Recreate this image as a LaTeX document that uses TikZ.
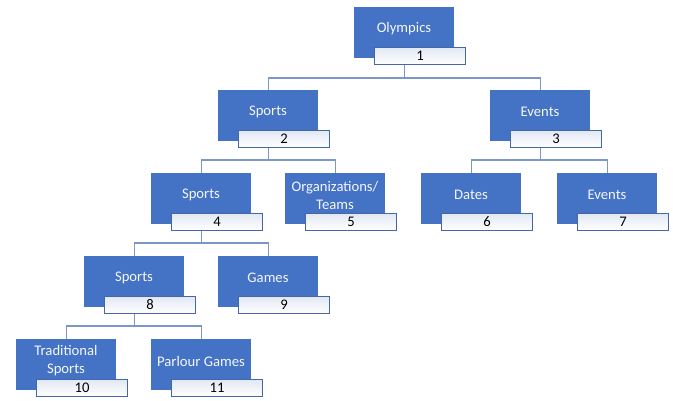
\documentclass[tikz,border=0pt]{standalone}
\usepackage{fontspec}
\setmainfont{Carlito}
\usetikzlibrary{calc}
\definecolor{boxblue}{RGB}{68,114,196}
\definecolor{numborder}{RGB}{70,102,172}
\definecolor{conncol}{RGB}{125,150,200}
\definecolor{numtop}{RGB}{226,232,243}
\definecolor{textwhite}{RGB}{245,247,252}
\tikzset{
  bluebox/.style={draw=none, fill=boxblue, minimum width=75pt, minimum height=38.25pt, inner sep=0pt, anchor=north west},
  bluetext/.style={text=textwhite, font=\fontsize{11}{13.5}\selectfont, align=center, inner sep=0pt},
  numbox/.style={draw=numborder, line width=0.8pt, top color=numtop, bottom color=white, minimum width=68.25pt, minimum height=12.75pt, inner sep=0pt, anchor=north west, font=\fontsize{11}{12}\selectfont},
  conn/.style={draw=conncol, line width=0.9pt}
}
\newcommand{\orgunit}[5]{%
  \node[bluebox] (b#1) at (#2,#3) {};
  \node[bluetext] (t#1) at ($(#2,#3)+(50,22)$) {#4};
  \node[numbox] (n#1) at ($(#2,#3)+(20,40)$) {#5};
}
\begin{document}
\begin{tikzpicture}[x=0.75pt,y=-0.75pt]
\useasboundingbox (0,0) rectangle (673,400);
\fill[white] (0,0) rectangle (673,400);
\coordinate (h1) at (0,78);
\coordinate (h2) at (0,160);
\coordinate (h3) at (0,243);
\coordinate (h4) at (0,326);
\orgunit{1}{354}{7}{Olympics}{1}
\orgunit{2}{218}{90}{Sports}{2}
\orgunit{3}{490}{90}{Events}{3}
\orgunit{4}{151}{173}{Sports}{4}
\orgunit{5}{285}{173}{Organizations/\\Teams}{5}
\orgunit{6}{421}{173}{Dates}{6}
\orgunit{7}{557}{173}{Events}{7}
\orgunit{8}{84}{256}{Sports}{8}
\orgunit{9}{218}{256}{Games}{9}
\orgunit{10}{16}{339}{Traditional\\Sports}{10}
\orgunit{11}{151}{339}{Parlour Games}{11}
% level 1 -> 2
\draw[conn] (b1.south |- n1.south) -- (b1.south |- h1);
\draw[conn] (b2.north) -- (b2.north |- h1) -- (b3.north |- h1) -- (b3.north);
% level 2 -> 3
\draw[conn] (b2.south |- n2.south) -- (b2.south |- h2);
\draw[conn] (b4.north) -- (b4.north |- h2) -- (b5.north |- h2) -- (b5.north);
\draw[conn] (b3.south |- n3.south) -- (b3.south |- h2);
\draw[conn] (b6.north) -- (b6.north |- h2) -- (b7.north |- h2) -- (b7.north);
% level 3 -> 4
\draw[conn] (b4.south |- n4.south) -- (b4.south |- h3);
\draw[conn] (b8.north) -- (b8.north |- h3) -- (b9.north |- h3) -- (b9.north);
% level 4 -> 5
\draw[conn] (b8.south |- n8.south) -- (b8.south |- h4);
\draw[conn] (b10.north) -- (b10.north |- h4) -- (b11.north |- h4) -- (b11.north);
\end{tikzpicture}
\end{document}
